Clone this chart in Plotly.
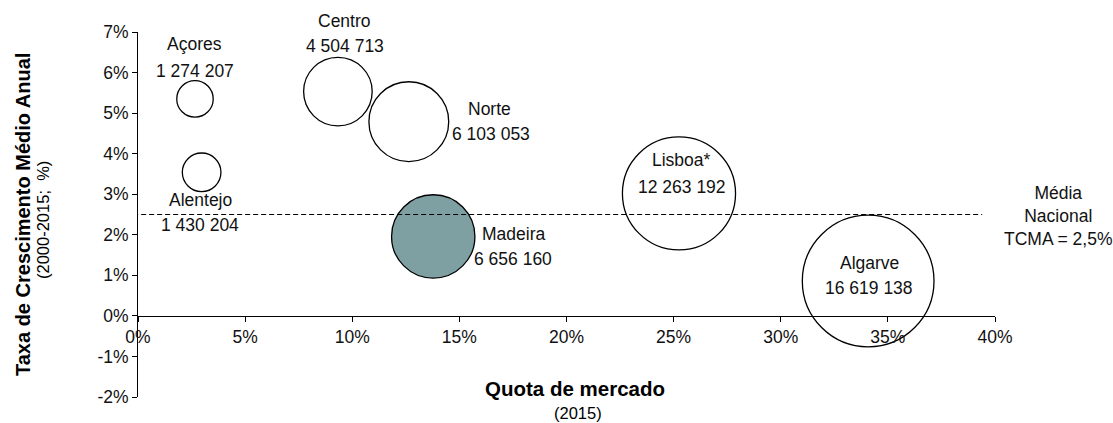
import plotly.graph_objects as go

# Regional tourism: market share (2015) vs. average annual growth (2000-2015)
regions = ["Açores", "Alentejo", "Centro", "Norte", "Madeira", "Lisboa*", "Algarve"]
market_share = [0.0266, 0.0297, 0.0933, 0.1264, 0.1378, 0.2525, 0.3408]
growth_rate = [0.0535, 0.0354, 0.0553, 0.0479, 0.0196, 0.0302, 0.0086]
overnights = [1274207, 1430204, 4504713, 6103053, 6656160, 12263192, 16619138]
value_labels = ["1 274 207", "1 430 204", "4 504 713", "6 103 053",
                "6 656 160", "12 263 192", "16 619 138"]
national_avg = 0.025

x_ticks = [0, 0.05, 0.10, 0.15, 0.20, 0.25, 0.30, 0.35, 0.40]
x_tick_text = ["0%", "5%", "10%", "15%", "20%", "25%", "30%", "35%", "40%"]
y_ticks = [-0.02, -0.01, 0, 0.01, 0.02, 0.03, 0.04, 0.05, 0.06, 0.07]
y_tick_text = ["-2%", "-1%", "0%", "1%", "2%", "3%", "4%", "5%", "6%", "7%"]

FONT = "Liberation Sans, Arial, sans-serif"
TXT = 17.5
fill = ["white", "white", "white", "white", "#7FA0A3", "white", "white"]

# pixel offsets of (name, value) labels from each bubble centre
label_offsets = {
    "Açores": ((0, 55), (0, 28)),
    "Alentejo": ((-1, -28), (-2, -53)),
    "Centro": ((7, 71), (7, 46)),
    "Norte": ((81, 13), (82, -12)),
    "Madeira": ((80, 2), (80, -23)),
    "Lisboa*": ((3, 33), (3, 6)),
    "Algarve": ((1, 18), (1, -7)),
}

W, H = 1113, 423
ML, MR, MT, MB = 138, 118, 32, 26
pw, ph = W - ML - MR, H - MT - MB


def px(xp, yp):
    """Pixel position on the page -> paper coordinates."""
    return (xp - ML) / pw, (H - MB - yp) / ph


fig = go.Figure()
fig.add_trace(go.Scatter(
    x=market_share, y=growth_rate, mode="markers",
    marker=dict(size=overnights, sizemode="area", sizeref=1917,
                color=fill, opacity=1,
                line=dict(color="black", width=1.3)),
    hoverinfo="skip", showlegend=False,
))

annotations = []
for name, xv, yv, lab in zip(regions, market_share, growth_rate, value_labels):
    (nx, ny), (vx, vy) = label_offsets[name]
    for txt, dx, dy in ((name, nx, ny), (lab, vx, vy)):
        annotations.append(dict(
            x=xv, y=yv, xref="x", yref="y", text=txt, showarrow=False,
            xshift=dx, yshift=dy, xanchor="center", yanchor="middle",
            font=dict(family=FONT, size=TXT, color="#111"),
        ))

mx, my = px(1058, 216)
annotations.append(dict(
    x=mx, y=my, xref="paper", yref="paper",
    text="Média<br>Nacional<br>TCMA = 2,5%",
    showarrow=False, xanchor="center", yanchor="middle",
    font=dict(family=FONT, size=TXT, color="#111"),
))

fig.add_shape(type="line", xref="x", yref="y", x0=-0.006, x1=0.394,
              y0=national_avg, y1=national_avg, layer="above",
              line=dict(color="black", width=1, dash="5px,3px"))

# axis titles
for text, xp, yp, size, bold, angle in (
    ("Quota de mercado", 575, 388, 20.5, True, 0),
    ("(2015)", 578, 413, 16.5, False, 0),
    ("Taxa de Crescimento Médio Anual", 23, 215, 20, True, -90),
    ("(2000-2015;  %)", 43, 220, 16.5, False, -90),
):
    xx, yy = px(xp, yp)
    annotations.append(dict(
        x=xx, y=yy, xref="paper", yref="paper", showarrow=False,
        text=f"<b>{text}</b>" if bold else text, textangle=angle,
        xanchor="center", yanchor="middle",
        font=dict(family=FONT, size=size, color="black"),
    ))

fig.update_layout(
    width=W, height=H,
    margin=dict(l=ML, r=MR, t=MT, b=MB, autoexpand=False),
    paper_bgcolor="white", plot_bgcolor="white",
    font=dict(family=FONT, size=TXT, color="#111"),
    annotations=annotations,
    xaxis=dict(range=[0, 0.40], tickvals=x_ticks, ticktext=x_tick_text,
               showgrid=False, zeroline=False, showline=True,
               linecolor="black", linewidth=1, ticks="outside", ticklen=5,
               tickcolor="black", anchor="free", position=2 / 9,
               tickfont=dict(family=FONT, size=TXT, color="#111")),
    yaxis=dict(range=[-0.02, 0.07], tickvals=y_ticks, ticktext=y_tick_text,
               showgrid=False, zeroline=False, showline=True,
               linecolor="black", linewidth=1, ticks="outside", ticklen=5,
               tickcolor="black",
               tickfont=dict(family=FONT, size=TXT, color="#111")),
)

fig.write_html("out.html")
